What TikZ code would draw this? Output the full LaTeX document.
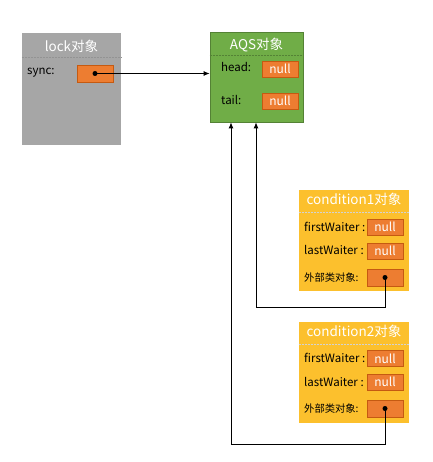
\documentclass[tikz,border=0pt]{standalone}
\usepackage{fontspec}
\setmainfont{Noto Sans CJK SC}
\usetikzlibrary{arrows.meta}
\definecolor{lockgray}{RGB}{166,166,166}
\definecolor{aqsgreen}{RGB}{112,173,71}
\definecolor{aqsborder}{RGB}{84,130,53}
\definecolor{condyellow}{RGB}{252,192,45}
\definecolor{nullorange}{RGB}{237,125,49}
\definecolor{nullborder}{RGB}{197,90,17}

\tikzset{
  objbox/.style={inner sep=0pt, minimum width=#1},
  titletext/.style={text=white, font=\fontsize{13.5}{15}\selectfont},
  fieldtext/.style={anchor=west, inner sep=0pt, font=\fontsize{11.5}{13}\selectfont},
  nullbox/.style={draw=nullborder, fill=nullorange, line width=0.8pt, minimum width=36pt, minimum height=16pt, inner sep=0pt, text=white, font=\fontsize{12}{13}\selectfont},
  sepline/.style={dash pattern=on 2pt off 1pt, line width=0.6pt},
  refdot/.style={circle, fill=black, inner sep=0pt, minimum size=5pt},
  refline/.style={line width=0.8pt},
}

\begin{document}
\begin{tikzpicture}[x=1pt,y=1pt,yscale=-1,xscale=1]
\useasboundingbox (0,0) rectangle (432,462);

%Shape: Rectangle
\node [objbox=99pt, minimum height=112pt, fill=lockgray] (lock) at (71.5,89) {};
%Shape: Rectangle
\node [objbox=93pt, minimum height=90pt, fill=aqsgreen, draw=aqsborder, line width=0.8pt] (aqs) at (256.5,77) {};
%Shape: Rectangle
\node [objbox=110pt, minimum height=101pt, fill=condyellow] (cond1) at (354,240.5) {};
%Shape: Rectangle
\node [objbox=110pt, minimum height=101pt, fill=condyellow] (cond2) at (354,372.5) {};

%Dashed Lines
\draw [sepline, draw=gray!85] ([yshift=25pt]lock.north west) -- ([yshift=25pt]lock.north east) ;
\draw [sepline, draw=aqsborder] ([yshift=24pt]aqs.north west) -- ([yshift=24pt]aqs.north east) ;
\draw [sepline, draw=gray!35] ([yshift=22pt]cond1.north west) -- ([yshift=22pt]cond1.north east) ;
\draw [sepline, draw=gray!35] ([yshift=22pt]cond2.north west) -- ([yshift=22pt]cond2.north east) ;

% Text Node
\node [titletext] (locktitle) at (71.5,46) {lock对象};
\node [titletext] (aqstitle) at (256.5,45) {AQS对象};
\node [titletext] (cond1title) at (354,199) {condition1对象};
\node [titletext] (cond2title) at (354,331) {condition2对象};

% Text Node
\node [fieldtext] (synclabel) at (27,73) {sync:};
\node [fieldtext] (headlabel) at (221,67) {head:};
\node [fieldtext] (taillabel) at (221,100) {tail:};
\node [fieldtext] (first1label) at (304,227) {firstWaiter :};
\node [fieldtext] (last1label) at (304,250) {lastWaiter :};
\node [fieldtext, font=\fontsize{10.3}{12}\selectfont] (outer1label) at (304,278) {外部类对象:};
\node [fieldtext] (first2label) at (304,358) {firstWaiter :};
\node [fieldtext] (last2label) at (304,382) {lastWaiter :};
\node [fieldtext, font=\fontsize{10.3}{12}\selectfont] (outer2label) at (304,409) {外部类对象:};

%Shape: Rectangle
\node [nullbox, minimum height=17pt] (syncbox) at (95,73.5) {};
\node [nullbox] (headbox) at (280,69) {null};
\node [nullbox] (tailbox) at (280,101) {null};
\node [nullbox] (first1box) at (385,227) {null};
\node [nullbox] (last1box) at (385,251) {null};
\node [nullbox, minimum height=17pt] (outer1box) at (385,277.5) {};
\node [nullbox] (first2box) at (385,358.5) {null};
\node [nullbox] (last2box) at (385,382) {null};
\node [nullbox, minimum height=17pt] (outer2box) at (385,408.5) {};

%Shape: Circle
\node [refdot] (syncdot) at (syncbox.center) {};
\node [refdot] (outer1dot) at (outer1box.center) {};
\node [refdot] (outer2dot) at (outer2box.center) {};

\coordinate (bend1) at (256,307);
\coordinate (bend2) at (231,444);

%Straight Lines
\draw [refline, -{Latex[length=6pt,width=5pt]}] (syncdot.center) -- (syncdot.center -| aqs.west) ;
%Straight Lines
\draw [refline, -{Latex[length=6pt,width=5pt]}] (outer1dot.center) |- (bend1) -- (bend1 |- aqs.south) ;
%Straight Lines
\draw [refline, -{Latex[length=6pt,width=5pt]}] (outer2dot.center) |- (bend2) -- (bend2 |- aqs.south) ;
\end{tikzpicture}
\end{document}
